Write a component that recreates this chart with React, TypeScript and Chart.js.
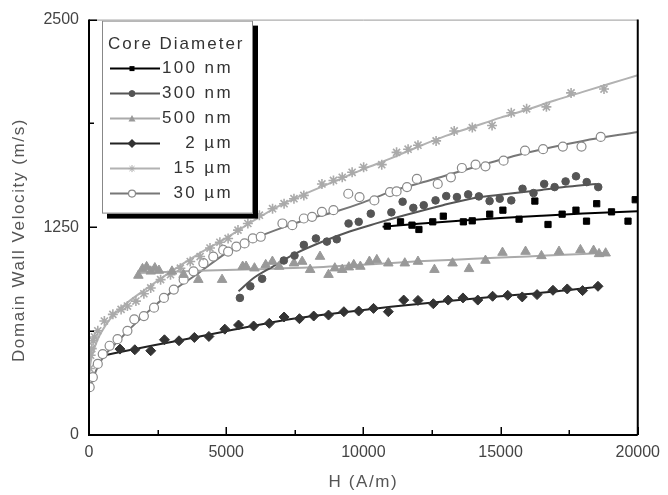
import React, { useEffect, useRef } from 'react';
import { Chart, registerables } from 'chart.js';
Chart.register(...registerables);

// ---------- data (H in A/m, velocity in m/s) ----------
const h100nm = [10872, 11354, 11772, 12024, 12528, 12913, 13644, 13968, 14605, 15085, 15674, 16250, 16729, 17244, 17748, 18133, 18504, 19044, 19645, 19908];
const v100nm = [1257, 1283, 1263, 1237, 1283, 1317, 1283, 1289, 1329, 1353, 1299, 1408, 1267, 1329, 1353, 1287, 1392, 1343, 1287, 1416];
const fitH100nm = [10700, 12000, 13500, 15000, 16500, 18000, 20000];
const fitV100nm = [1253, 1272, 1290, 1306, 1320, 1333, 1347];

const h300nm = [5500, 5880, 6310, 7100, 7490, 7830, 8270, 8670, 9030, 9460, 9830, 10270, 11020, 11430, 11820, 12200, 12630, 13020, 13410, 13820, 14210, 14600, 14970, 15390, 15800, 16200, 16590, 16970, 17370, 17750, 18140, 18560];
const v300nm = [825, 895, 940, 1050, 1080, 1144, 1183, 1164, 1178, 1273, 1283, 1332, 1340, 1404, 1367, 1383, 1412, 1438, 1432, 1448, 1436, 1408, 1422, 1412, 1482, 1456, 1511, 1492, 1526, 1557, 1522, 1492];
const fitH300nm = [5450, 6000, 6700, 7500, 8500, 9500, 10500, 11500, 12900, 14000, 15200, 16500, 17500, 18500];
const fitV300nm = [865, 945, 1014, 1090, 1163, 1225, 1275, 1322, 1383, 1425, 1450, 1475, 1495, 1511];

const h500nm = [1800, 1950, 2100, 2250, 2400, 2550, 3025, 3445, 3985, 4850, 5600, 5725, 6030, 6440, 6685, 6930, 7470, 7770, 8060, 8420, 8730, 8960, 9230, 9470, 9650, 9890, 10220, 10490, 10910, 11510, 11990, 12590, 13250, 13850, 14450, 15070, 15910, 16490, 17130, 17910, 18390, 18590, 18830];
const v500nm = [960, 1000, 1012, 985, 1005, 990, 985, 965, 935, 935, 1014, 1014, 1004, 1024, 1044, 1014, 1034, 1044, 995, 1074, 965, 1004, 995, 1010, 1024, 1014, 1044, 1054, 1034, 1034, 1044, 995, 1034, 1000, 1050, 1098, 1104, 1078, 1104, 1114, 1110, 1090, 1094];
const fitH500nm = [1800, 4000, 6000, 8000, 10000, 12000, 14000, 16000, 18000, 18800];
const fitV500nm = [975, 988, 998, 1008, 1025, 1045, 1060, 1075, 1090, 1095];

const h2um = [1130, 1670, 2250, 2750, 3280, 3840, 4370, 4950, 5450, 6000, 6570, 7110, 7670, 8190, 8730, 9290, 9830, 10370, 10910, 11470, 11990, 12550, 13090, 13630, 14170, 14710, 15260, 15790, 16330, 16910, 17430, 17990, 18550];
const v2um = [517, 513, 507, 573, 567, 587, 593, 637, 662, 656, 672, 710, 700, 716, 722, 742, 746, 762, 742, 812, 810, 790, 812, 825, 812, 835, 841, 831, 845, 871, 879, 869, 895];
const fitH2um = [626, 1500, 3000, 5000, 7000, 9000, 11000, 13000, 15000, 17000, 18600];
const fitV2um = [482, 512, 560, 625, 688, 733, 772, 805, 835, 864, 893];

const h15um = [30, 60, 100, 150, 200, 320, 560, 870, 1170, 1400, 1710, 2000, 2250, 2610, 2970, 3330, 3690, 4050, 4410, 4770, 5070, 5430, 5790, 6210, 6690, 7110, 7470, 7830, 8490, 8910, 9230, 9590, 10010, 10670, 11210, 11630, 11990, 12650, 13310, 13970, 14690, 15390, 15950, 16670, 17570, 18770];
const v15um = [400, 480, 520, 567, 590, 627, 686, 726, 756, 776, 806, 850, 885, 935, 965, 1004, 1044, 1074, 1125, 1160, 1183, 1233, 1273, 1323, 1362, 1392, 1422, 1442, 1511, 1532, 1551, 1581, 1611, 1627, 1701, 1720, 1744, 1770, 1830, 1850, 1863, 1939, 1963, 1975, 2059, 2082];
const fitH15um = [0, 100, 300, 600, 1000, 1500, 2000, 3000, 4000, 5000, 6000, 7000, 8000, 9000, 10000, 11000, 12000, 13000, 14000, 15000, 16000, 17000, 18000, 19000, 20000];
const fitV15um = [380, 470, 570, 660, 740, 810, 870, 985, 1090, 1185, 1290, 1385, 1460, 1530, 1600, 1665, 1735, 1800, 1855, 1910, 1960, 2015, 2065, 2115, 2165];

const h30um = [25, 140, 320, 500, 750, 1040, 1400, 1650, 2000, 2370, 2730, 3090, 3450, 3810, 4170, 4530, 4890, 5070, 5370, 5670, 5970, 6260, 7050, 7410, 7830, 8130, 8490, 8910, 9450, 9860, 10400, 10970, 11210, 11590, 11950, 12710, 13190, 13590, 14090, 14450, 15110, 15890, 16550, 17270, 17950, 18650];
const v30um = [288, 348, 428, 487, 537, 577, 627, 696, 716, 766, 825, 875, 935, 985, 1034, 1074, 1114, 1104, 1134, 1153, 1183, 1193, 1273, 1263, 1303, 1313, 1343, 1353, 1452, 1432, 1412, 1462, 1466, 1492, 1541, 1511, 1551, 1607, 1627, 1617, 1651, 1711, 1720, 1736, 1736, 1794];
const fitH30um = [0, 100, 450, 1000, 2000, 3000, 4000, 5000, 6000, 7000, 8000, 9000, 10000, 11000, 12400, 14000, 16000, 18000, 20000];
const fitV30um = [260, 320, 450, 555, 720, 860, 975, 1095, 1180, 1245, 1300, 1345, 1400, 1465, 1532, 1610, 1700, 1770, 1824];

const seriesLabels = ['100 nm', '300 nm', '500 nm', '2 \u00B5m', '15 \u00B5m', '30 \u00B5m'];
const legendTitle = 'Core Diameter';
const xTitle = 'H (A/m)';
const yTitle = 'Domain Wall Velocity (m/s)';
const xMinorTicks = [2500, 7500, 12500, 17500];
const xMajorTicks = [0, 5000, 10000, 15000, 20000];
const yMinorTicks = [625, 1875];
const yMajorTicks = [0, 1250, 2500];

// ---------- styles ----------
const FONT = '"Liberation Sans", Arial, Helvetica, sans-serif';
type St = { style: string; r: number; fill: string; stroke: string; bw: number; line: string; lw: number; lr: number };
const seriesStyles: St[] = [
  { style: 'rect', r: 4.4, fill: '#000', stroke: '#000', bw: 1, line: '#000', lw: 2, lr: 2.5 },
  { style: 'circle', r: 3.8, fill: '#555', stroke: '#555', bw: 1, line: '#555', lw: 2, lr: 3 },
  { style: 'triangle', r: 5.5, fill: '#999', stroke: '#999', bw: 1, line: '#aaa', lw: 2, lr: 3.5 },
  { style: 'rectRot', r: 5, fill: '#333', stroke: '#333', bw: 1, line: '#222', lw: 2, lr: 4.5 },
  { style: 'star', r: 5, fill: '#aaa', stroke: '#aaa', bw: 1.6, line: '#b2b2b2', lw: 2, lr: 3.5 },
  { style: 'circle', r: 4.5, fill: '#fff', stroke: '#8a8a8a', bw: 1.2, line: '#777', lw: 2, lr: 3.5 },
];

const pts = (h: number[], v: number[]) => h.map((x, i) => ({ x, y: v[i] }));

const pointSets = [
  [h100nm, v100nm], [h300nm, v300nm], [h500nm, v500nm], [h2um, v2um], [h15um, v15um], [h30um, v30um],
];
const fitSets = [
  [fitH100nm, fitV100nm], [fitH300nm, fitV300nm], [fitH500nm, fitV500nm], [fitH2um, fitV2um], [fitH15um, fitV15um], [fitH30um, fitV30um],
];

function drawMarker(ctx: CanvasRenderingContext2D, st: St, x: number, y: number) {
  const r = st.lr;
  ctx.save();
  ctx.fillStyle = st.fill;
  ctx.strokeStyle = st.stroke;
  ctx.lineWidth = st.bw;
  ctx.beginPath();
  if (st.style === 'rect') {
    ctx.rect(x - r, y - r, 2 * r, 2 * r);
    ctx.fill();
  } else if (st.style === 'circle') {
    ctx.arc(x, y, r, 0, Math.PI * 2);
    ctx.fill();
    ctx.stroke();
  } else if (st.style === 'triangle') {
    ctx.moveTo(x, y - r);
    ctx.lineTo(x + r, y + r * 0.8);
    ctx.lineTo(x - r, y + r * 0.8);
    ctx.closePath();
    ctx.fill();
  } else if (st.style === 'rectRot') {
    ctx.moveTo(x, y - r);
    ctx.lineTo(x + r, y);
    ctx.lineTo(x, y + r);
    ctx.lineTo(x - r, y);
    ctx.closePath();
    ctx.fill();
  } else if (st.style === 'star') {
    ctx.lineWidth = 1;
    for (let k = 0; k < 4; k++) {
      const a = (k * Math.PI) / 4;
      ctx.moveTo(x - r * Math.cos(a), y - r * Math.sin(a));
      ctx.lineTo(x + r * Math.cos(a), y + r * Math.sin(a));
    }
    ctx.stroke();
  }
  ctx.restore();
}

const decorPlugin = {
  id: 'decor',
  afterDraw(chart: any) {
    const { ctx, chartArea: a, scales } = chart;
    const xs = scales.x;
    const ys = scales.y;
    ctx.save();
    // frame
    ctx.strokeStyle = '#999';
    ctx.lineWidth = 1;
    ctx.beginPath();
    ctx.moveTo(a.left, a.top + 0.5);
    ctx.lineTo(a.right, a.top + 0.5);
    ctx.stroke();
    ctx.strokeStyle = '#000';
    ctx.lineWidth = 2;
    ctx.beginPath();
    ctx.moveTo(a.left, a.top);
    ctx.lineTo(a.left, a.bottom);
    ctx.lineTo(a.right, a.bottom);
    ctx.moveTo(a.right, a.top);
    ctx.lineTo(a.right, a.bottom);
    ctx.stroke();
    // inward ticks
    ctx.lineWidth = 1.5;
    ctx.beginPath();
    xMajorTicks.forEach((v) => { const p = Math.round(xs.getPixelForValue(v)) + 0.25; ctx.moveTo(p, a.bottom); ctx.lineTo(p, a.bottom - 8); });
    xMinorTicks.forEach((v) => { const p = Math.round(xs.getPixelForValue(v)) + 0.25; ctx.moveTo(p, a.bottom); ctx.lineTo(p, a.bottom - 5); });
    yMajorTicks.forEach((v) => { const p = Math.round(ys.getPixelForValue(v)) + 0.25; ctx.moveTo(a.left, p); ctx.lineTo(a.left + 8, p); });
    yMinorTicks.forEach((v) => { const p = Math.round(ys.getPixelForValue(v)) + 0.25; ctx.moveTo(a.left, p); ctx.lineTo(a.left + 5, p); });
    ctx.stroke();

    // axis titles
    ctx.fillStyle = '#555';
    ctx.font = '17px ' + FONT;
    (ctx as any).letterSpacing = '1.6px';
    ctx.textAlign = 'center';
    ctx.textBaseline = 'middle';
    ctx.fillText(xTitle, (a.left + a.right) / 2, 482);
    ctx.save();
    ctx.translate(19, 240);
    ctx.rotate(-Math.PI / 2);
    ctx.fillText(yTitle, 0, 0);
    ctx.restore();

    // legend
    const bx = a.left + 13, by = a.top + 1, bw = 151, bh = 193;
    ctx.fillStyle = '#000';
    ctx.fillRect(bx + 5, by + 5, bw, bh);
    ctx.fillStyle = '#fff';
    ctx.fillRect(bx, by, bw, bh);
    ctx.strokeStyle = '#888';
    ctx.lineWidth = 1;
    ctx.strokeRect(bx + 0.5, by + 0.5, bw - 1, bh - 1);

    ctx.fillStyle = '#333';
    ctx.font = '17px ' + FONT;
    (ctx as any).letterSpacing = '2px';
    ctx.textAlign = 'left';
    ctx.fillText(legendTitle, bx + 6, by + 24);
    (ctx as any).letterSpacing = '2.4px';
    ctx.textAlign = 'right';
    seriesLabels.forEach((lab, i) => {
      const st = seriesStyles[i];
      const ry = by + 48 + i * 25;
      ctx.strokeStyle = st.line;
      ctx.lineWidth = st.lw;
      ctx.beginPath();
      ctx.moveTo(bx + 8, ry);
      ctx.lineTo(bx + 58, ry);
      ctx.stroke();
      drawMarker(ctx, st, bx + 30, ry);
      ctx.fillStyle = '#333';
      ctx.fillText(lab, bx + 131, ry);
    });
    ctx.restore();
  },
};

export default function App() {
  const ref = useRef<HTMLCanvasElement>(null);
  useEffect(() => {
    document.body.style.margin = '0';
    const canvas = ref.current!;
    const datasets: any[] = [];
    fitSets.forEach(([h, v], i) => {
      const st = seriesStyles[i];
      datasets.push({
        label: seriesLabels[i] + ' fit',
        data: pts(h, v),
        showLine: true,
        pointRadius: 0,
        borderColor: st.line,
        borderWidth: st.lw,
        cubicInterpolationMode: 'monotone',
        fill: false,
        order: 2,
      });
    });
    pointSets.forEach(([h, v], i) => {
      const st = seriesStyles[i];
      datasets.push({
        label: seriesLabels[i],
        data: pts(h, v),
        showLine: false,
        pointStyle: st.style,
        pointRadius: st.r,
        backgroundColor: st.fill,
        borderColor: st.stroke,
        pointBorderWidth: st.bw,
        order: 1,
      });
    });
    const chart = new Chart(canvas, {
      type: 'scatter',
      data: { datasets },
      options: {
        animation: false,
        responsive: false,
        devicePixelRatio: 1,
        layout: { padding: { top: 16, right: 24, left: 0, bottom: 0 } },
        plugins: { legend: { display: false }, tooltip: { enabled: false } },
        scales: {
          x: {
            type: 'linear',
            min: 0,
            max: 20000,
            ticks: { stepSize: 5000, color: '#444', font: { family: FONT, size: 16 }, padding: 8, maxRotation: 0, callback: (v: any) => String(v) },
            grid: { drawOnChartArea: false, drawTicks: false },
            border: { display: false },
            afterFit: (s: any) => { s.height = 60; },
          },
          y: {
            type: 'linear',
            min: 0,
            max: 2500,
            ticks: { stepSize: 1250, color: '#444', font: { family: FONT, size: 16 }, padding: 10, callback: (v: any) => String(v) },
            grid: { drawOnChartArea: false, drawTicks: false },
            border: { display: false },
            afterFit: (s: any) => { s.width = 89; },
          },
        },
      } as any,
      plugins: [decorPlugin],
    });
    return () => chart.destroy();
  }, []);
  return (
    <div style={{ position: 'absolute', left: 0, top: 0, width: 668, height: 495 }}>
      <canvas ref={ref} width={668} height={495} />
    </div>
  );
}
